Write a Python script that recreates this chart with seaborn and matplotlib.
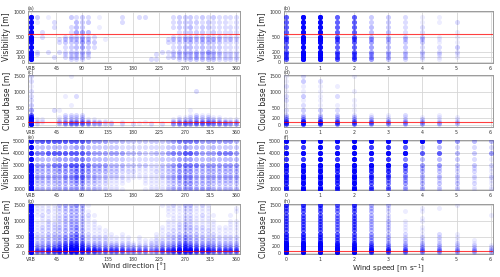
import numpy as np
import pandas as pd
import matplotlib
matplotlib.use("Agg")
import matplotlib.pyplot as plt
import seaborn as sns

# x categories
wind_dir = [0, 10, 20, 30, 40, 50, 60, 70, 80, 90, 100, 110, 120, 130, 140, 150, 160, 170, 180,
            190, 200, 210, 220, 230, 240, 250, 260, 270, 280, 290, 300, 310, 320, 330, 340, 350, 360]
wind_spd = [0, 0.5, 1, 1.5, 2, 2.5, 3, 3.5, 4, 4.5, 5, 5.5, 6]
dir_ticks = [0, 45, 90, 135, 180, 225, 270, 315, 360]
dir_labels = ["VRB", "45", "90", "135", "180", "225", "270", "315", "360"]
spd_ticks = [0, 1, 2, 3, 4, 5, 6]

# y levels
vis_low_levels = [900, 800, 700, 600, 500, 450, 400, 300, 200, 150, 100, 50]
cb_levels_c = [1500, 1350, 1200, 1050, 900, 750, 600, 450, 300, 240, 180, 120, 90, 60, 30]
vis_high_levels = [5000, 4500, 4000, 3500, 3000, 2800, 2500, 2200, 2000, 1800, 1500, 1200, 1000]
cb_levels_g = [1500, 1400, 1300, 1200, 1100, 1000, 900, 800, 700, 600, 500, 400, 300, 240, 180, 120, 90, 60, 30]

# shade digit -> number of overlapping observations
shade_counts = [0, 1, 2, 3, 4, 6, 9, 13, 19, 40]

# (a) visibility < 1000 m vs wind direction   (VRB | 10-90 | 100-180 | 190-270 | 280-360)
grid_a = [
    "9 301000323 201000200 220000233 323232222",
    "9 100200043 300000200 000000233 332322212",
    "9 000200243 001000000 000000233 423322222",
    "9 020000255 400000000 000000023 333232222",
    "9 020002334 220000000 000000223 333323222",
    "9 000023334 300100000 000002334 434343232",
    "9 000023345 430000000 000002233 434433222",
    "9 000002345 320000000 000000234 434333222",
    "9 202022334 300000000 000022344 444543222",
    "9 200002233 200000000 000200233 343333222",
    "9 000202333 200000000 000002333 343332222",
    "9 000000222 000000000 002200022 333332222",
]
# (b) visibility < 1000 m vs wind speed
grid_b = [
    "7997733211000",
    "7997733211200",
    "7997743220000",
    "7997744220100",
    "7997743331100",
    "7997754331000",
    "7997754331100",
    "7997754322300",
    "7997754332200",
    "7997754322100",
    "7997754321100",
    "7997753211000",
]
# (c) cloud base (low visibility cases) vs wind direction
grid_c = [
    "2 000000100 000000000 000000000 000000000",
    "2 000000000 000000000 000000000 000000000",
    "1 000000000 000000000 000000000 000000000",
    "2 000000000 000000000 000000000 020000000",
    "2 000001020 000000000 000000000 000000000",
    "2 000000000 000000000 000000000 000000000",
    "3 000000100 000000000 000000000 000000000",
    "5 000210000 000000000 000000000 100000000",
    "7 000002222 000000000 000000000 121100000",
    "8 000012222 000000000 000000011 232211000",
    "9 110012223 110000000 000000122 232322111",
    "9 110022333 211100000 000000222 333332212",
    "9 110023444 322110100 010000233 344433322",
    "9 100024555 433120101 101010345 455544433",
    "9 100013444 322110101 001010344 444444433",
]
# (d) cloud base (low visibility cases) vs wind speed
grid_d = [
    "1200100000000",
    "1320000000000",
    "2111000000000",
    "1110100000000",
    "2312000000000",
    "2110100000000",
    "1211100000000",
    "2332100000000",
    "3333211201000",
    "4433321111100",
    "5554432221100",
    "6765543321100",
    "6776554332200",
    "7876654433200",
    "6765543332100",
]
# (e) visibility >= 1000 m vs wind direction
grid_e = [
    "9 677777777 655544433 333334566 665555554",
    "9 344444455 433333222 222223445 444343333",
    "9 667777777 655555544 433445667 765556665",
    "9 444455566 544433322 222233455 544444444",
    "9 555666777 655544433 332234566 665555555",
    "9 333344455 433322211 111122334 433333333",
    "9 444455566 544433222 111223455 544444444",
    "9 333334455 432222111 111122344 433333333",
    "9 444445566 443322211 111123455 544444444",
    "9 333334455 332211110 011112344 433333333",
    "9 333344455 332211100 011112345 544433333",
    "9 222233344 222111000 001112334 433322222",
    "9 333334444 332211100 011112344 444433333",
]
# (f) visibility >= 1000 m vs wind speed
grid_f = [
    "9999999997544",
    "8898988734222",
    "9999999977435",
    "8898988644321",
    "9999999855332",
    "8888887643221",
    "8998988643221",
    "8888877532211",
    "8998987533222",
    "8888876532211",
    "8998976543321",
    "8888876432211",
    "8998976432211",
]
# (g) cloud base (all cases) vs wind direction
grid_g = [
    "9 111134454 100000000 000011213 312100000",
    "9 111123333 000000000 000001112 211100001",
    "9 112123443 100000000 000001112 211100001",
    "9 121123443 210000000 000001112 212110010",
    "9 011123333 100000000 000000112 211100000",
    "9 112123443 110000000 000001112 211110011",
    "9 112223443 110000000 000001123 211110011",
    "9 122233453 111000000 000011123 322111111",
    "9 122234454 111100000 000011223 322211111",
    "9 223334564 211110100 000112234 332221111",
    "9 223345565 222211110 100112345 433222222",
    "9 233345665 222211110 111222345 443332222",
    "9 334456776 333322221 112233456 544433333",
    "9 334456776 443333322 222233456 554443333",
    "9 445567887 554444433 332344567 655544444",
    "9 445667887 665555544 443455677 766655555",
    "9 556677887 665555544 443455677 766655555",
    "9 556677887 665555544 443455677 766655555",
    "9 445566776 554444433 332344566 655544444",
]
# (h) cloud base (all cases) vs wind speed
grid_h = [
    "8887843000100",
    "7776742011000",
    "7776742110000",
    "7776742000001",
    "7776742010000",
    "7776743110000",
    "7776743100000",
    "7776743110000",
    "7776743110000",
    "8887753212100",
    "8887754222100",
    "8887754322110",
    "9998864332210",
    "9998865433221",
    "9998875443222",
    "9999976544332",
    "9999976544332",
    "9999976544332",
    "9999976543322",
]

# thresholds (red lines)
vis_threshold = 550
cb_threshold_c = 80
cb_threshold_g = 60


def expand(rows, xs, levels):
    recs = []
    for lev, row in zip(levels, rows):
        row = row.replace(" ", "")
        for x, ch in zip(xs, row):
            recs += [(x, lev)] * shade_counts[int(ch)]
    return pd.DataFrame(recs, columns=["x", "y"])


sns.set_style("whitegrid")
plt.rcParams["font.family"] = ["DejaVu Sans"]

fig = plt.figure(figsize=(5, 2.77), dpi=100)

rows_pos = [(0.7726, 0.1877), (0.5415, 0.1877), (0.3141, 0.1805), (0.083, 0.1805)]
col_pos = [(0.056, 0.424), (0.568, 0.418)]

panels = [
    ("(a)", grid_a, wind_dir, vis_low_levels, 0, 0, "Visibility [m]", [0, 100, 200, 500, 1000], (-20, 1010), vis_threshold),
    ("(b)", grid_b, wind_spd, vis_low_levels, 0, 1, "Visibility [m]", [0, 100, 200, 500, 1000], (-20, 1010), vis_threshold),
    ("(c)", grid_c, wind_dir, cb_levels_c, 1, 0, "Cloud base [m]", [0, 200, 500, 1000, 1500], (-75, 1540), cb_threshold_c),
    ("(d)", grid_d, wind_spd, cb_levels_c, 1, 1, "Cloud base [m]", [0, 200, 500, 1000, 1500], (-75, 1540), cb_threshold_c),
    ("(e)", grid_e, wind_dir, vis_high_levels, 2, 0, "Visibility [m]", [1000, 2000, 3000, 4000, 5000], (940, 5080), None),
    ("(f)", grid_f, wind_spd, vis_high_levels, 2, 1, "Visibility [m]", [1000, 2000, 3000, 4000, 5000], (940, 5080), None),
    ("(g)", grid_g, wind_dir, cb_levels_g, 3, 0, "Cloud base [m]", [0, 200, 500, 1000, 1500], (-40, 1530), cb_threshold_g),
    ("(h)", grid_h, wind_spd, cb_levels_g, 3, 1, "Cloud base [m]", [0, 200, 500, 1000, 1500], (-40, 1530), cb_threshold_g),
]

for tag, grid, xs, levels, r, c, ylab, yticks, ylim, thr in panels:
    b, h = rows_pos[r]
    l, w = col_pos[c]
    ax = fig.add_axes([l, b, w, h])
    df = expand(grid, xs, levels)
    sns.scatterplot(data=df, x="x", y="y", ax=ax, color="blue", alpha=0.07,
                    s=13, linewidth=0, zorder=3, legend=False)
    if thr is not None:
        ax.axhline(thr, color="red", lw=0.8, alpha=0.75, zorder=4)
    if c == 0:
        ax.set_xlim(-5, 367)
        ax.set_xticks(dir_ticks)
        ax.set_xticklabels(dir_labels)
    else:
        ax.set_xlim(-0.06, 6.07)
        ax.set_xticks(spd_ticks)
    ax.set_ylim(*ylim)
    ax.set_yticks(yticks)
    ax.set_ylabel(ylab, fontsize=5.5, labelpad=1.5)
    ax.set_xlabel("")
    if r == 3:
        ax.set_xlabel("Wind direction [°]" if c == 0 else "Wind speed [m s$^{-1}$]",
                      fontsize=5.2, labelpad=0.5)
    ax.tick_params(axis="both", labelsize=3.4, length=1.5, width=0.4, pad=0.6, colors="#333333")
    ax.grid(True, color="#d6d6d6", lw=0.6)
    for sp in ax.spines.values():
        sp.set_color("#9a9a9a")
        sp.set_linewidth(0.7)
    ax.text(0.0, 1.005, tag, transform=ax.transAxes, fontsize=3.6, va="bottom", ha="left", color="#333333")

fig.savefig("out.png", dpi=100)
